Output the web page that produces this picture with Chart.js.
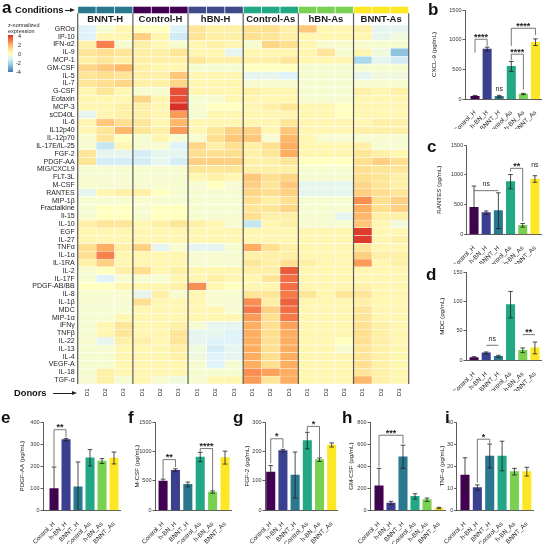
<!DOCTYPE html>
<html><head><meta charset="utf-8">
<script src="https://cdn.jsdelivr.net/npm/chart.js@4.4.0/dist/chart.umd.min.js"></script>
<style>
html,body{margin:0;padding:0;background:#fff;}
body{width:546px;height:544px;position:relative;overflow:hidden;font-family:"Liberation Sans",Arial,sans-serif;}
canvas{position:absolute;}
.t{position:absolute;white-space:nowrap;color:#111;}
.pl{position:absolute;font-weight:bold;font-size:17px;line-height:17px;color:#111;}
.cbl{position:absolute;font-size:5.5px;line-height:6px;color:#222;}
</style></head><body>

<canvas id="hm" width="412" height="402" style="left:0;top:0"></canvas>
<canvas id="cb" width="115" height="124" style="left:431px;top:5px"></canvas>
<canvas id="cc" width="110" height="124" style="left:436px;top:140px"></canvas>
<canvas id="cd" width="107" height="124" style="left:439px;top:266.7px"></canvas>
<canvas id="ce" width="106" height="128" style="left:19px;top:416.7px"></canvas>
<canvas id="cf" width="102" height="128" style="left:134px;top:416.7px"></canvas>
<canvas id="cg" width="99" height="128" style="left:244px;top:416.7px"></canvas>
<canvas id="ch" width="102" height="128" style="left:348px;top:416.7px"></canvas>
<canvas id="ci" width="99" height="128" style="left:439px;top:416.7px"></canvas>

<div class="pl" style="left:2px;top:-1px">a</div>
<div class="t" style="left:15px;top:5px;font-weight:bold;font-size:9.3px;line-height:10px">Conditions</div>
<div style="position:absolute;left:65px;top:10px;width:6px;height:0;border-top:1.2px solid #222"></div>
<div style="position:absolute;left:70px;top:8px;width:0;height:0;border-top:2.6px solid transparent;border-bottom:2.6px solid transparent;border-left:5px solid #222"></div>

<div class="cbl" style="left:8px;top:22px">z-normalized<br>expression</div>
<div style="position:absolute;left:8px;top:35px;width:5px;height:37px;background:linear-gradient(to bottom,#d73027,#f46d43,#fdae61,#fee090,#ffffbf,#e0f3f8,#abd9e9,#74add1,#4575b4)"></div>
<div class="cbl" style="left:18px;top:33px">4</div>
<div class="cbl" style="left:18px;top:41.5px">2</div>
<div class="cbl" style="left:18px;top:50.5px">0</div>
<div class="cbl" style="left:16px;top:59.5px">-2</div>
<div class="cbl" style="left:16px;top:68.5px">-4</div>

<div class="t" style="left:14px;top:388px;font-weight:bold;font-size:9.3px;line-height:10px">Donors</div>
<div style="position:absolute;left:53px;top:393px;width:20px;height:0;border-top:1px solid #222"></div>
<div style="position:absolute;left:72px;top:390.8px;width:0;height:0;border-top:2.5px solid transparent;border-bottom:2.5px solid transparent;border-left:5px solid #222"></div>

<div class="pl" style="left:428px;top:1px">b</div>
<div class="pl" style="left:427px;top:138px">c</div>
<div class="pl" style="left:426px;top:266px">d</div>
<div class="pl" style="left:1px;top:409px">e</div>
<div class="pl" style="left:128px;top:409px">f</div>
<div class="pl" style="left:233px;top:409px">g</div>
<div class="pl" style="left:342px;top:409px">h</div>
<div class="pl" style="left:445px;top:409px">i</div>

<script>
// ---------------- DATA ----------------
const cytokines = ['GROα','IP-10','IFN-α2','IL-9','MCP-1','GM-CSF','IL-5','IL-7','G-CSF','Eotaxin','MCP-3','sCD40L','IL-6','IL12p40','IL-12p70','IL-17E/IL-25','FGF-2','PDGF-AA','MIG/CXCL9','FLT-3L','M-CSF','RANTES','MIP-1β','Fractalkine','Il-15','IL-10','EGF','IL-27','TNFα','IL-1α','IL-1RA','IL-2','IL-17F','PDGF-AB/BB','IL-8','IL-1β','MDC','MIP-1α','IFNγ','TNFβ','IL-22','IL-13','IL-4','VEGF-A','IL-18','TGF-α'];
const conditions = ['BNNT-H','Control-H','hBN-H','Control-As','hBN-As','BNNT-As'];
const donors = ['D1','D2','D3'];
// z-scores: columns BNNT-H D1-3, Control-H D1-3, hBN-H D1-3, Control-As D1-3, hBN-As D1-3, BNNT-As D1-3
const zScores = [
 [-1,-0.3,0.3, 0,0,-1, 0.8,0.5,0.5, 1,1,0.5, 1.5,0.3,0.3, 0.5,-0.8,-0.8],
 [-1,0.3,0.3, 1.3,0.3,-1.3, 0.8,0.5,0.5, 1,0.8,0.5, 0.3,0.3,0.3, 0.3,-0.8,-0.5],
 [0.5,2.7,-0.3, 0.5,0.2,-0.3, 0.3,0.5,0.3, -0.3,1.2,1, 0.3,-0.3,-0.3, -0.3,-0.3,-0.3],
 [0.8,1,0.8, 0.5,0.5,0.8, 0.3,0.3,-0.8, 0.3,0.3,0.3, 0.3,0.8,-0.3, 0.3,-0.5,-2.5],
 [0.5,0.8,0.5, 0.5,0.5,0.5, 0.8,0.5,0.5, 0.5,0.5,0.8, 0.3,0.3,0.3, -2,-0.8,-1.3],
 [1.2,1.5,1.8, 0.5,0.3,0.3, -0.3,-0.3,-0.3, 0,0,0, -0.3,-0.3,-0.3, -0.3,-0.3,-0.3],
 [0.8,1,0.8, 0.5,0.5,1.5, 0.3,0.3,0.3, -0.8,-0.8,-1, -0.3,-0.3,-0.3, -0.8,-0.5,-0.5],
 [0.8,1,1.2, 0.5,0.5,1.2, 0.3,0.3,0.3, -0.3,-0.3,-0.3, -0.3,-0.3,-0.3, -0.3,-0.3,-0.3],
 [0.3,0.8,0.3, -0.3,-0.3,3.5, 0.3,0.3,0.3, 0.5,0.3,0.3, -0.3,-0.3,-0.3, 0.5,0.3,0.5],
 [0.3,0.3,0.3, 1.2,0.3,3.5, -0.3,-0.3,0.3, 0.3,0.3,0.3, -0.3,-0.3,-0.3, 0.3,0.3,0.3],
 [0.3,0.3,0.5, 0.5,0.3,4, -0.3,0,0, 0.3,0.5,0.8, 0.3,0.3,0, 0.3,0.3,0.3],
 [-0.8,0.3,0.5, 0.5,0.3,2.3, -0.3,0.3,0.3, 0.3,0.3,0.3, 0.3,0.3,0, 0.3,0.3,0.3],
 [0.3,1.5,1, 0.8,0.3,1.8, 0.3,0.3,0.3, 0.3,0.3,0.8, 0.3,0.3,0.3, 0.3,0.5,0.5],
 [0.3,0.8,1.8, 0.8,0.5,2.3, 0.3,0.8,1.3, 1.3,0.3,1.5, 0.3,0.3,0.3, 0.5,0.5,0.5],
 [-0.3,0.8,0, -0.3,0.3,-0.3, -0.3,1,1.5, 1.5,-0.3,1.8, 0.3,-0.3,-0.3, -0.3,-0.3,-0.3],
 [-0.3,-1.5,0.3, -0.3,-0.3,-1, 1.2,0.5,1, 0.5,1,2, 0.3,0.3,0.3, 0.5,-0.3,-0.3],
 [0.8,-0.8,-0.8, -1.2,-0.8,-0.8, 1,1,1, 0.5,0.8,2, 0.3,0.3,0.3, 0.8,0.5,0.3],
 [0.8,-1.2,-1.2, -1.2,-0.8,-1.2, 1.3,1.3,1.3, 0.5,0.5,0.8, 0,0,0, 1,1.3,1],
 [-0.3,-0.3,-0.3, -0.3,-0.3,-0.3, 0.8,0.8,0.8, 0.5,0.5,0.5, -0.3,-0.3,-0.3, 1,0.8,0.8],
 [-0.3,-0.3,-0.3, -0.3,-0.3,-0.3, 0.3,0.5,0.3, 1.5,1,1.2, -0.3,-0.3,-0.3, 1,0.8,0.5],
 [-0.3,-0.3,-0.3, -0.3,-0.3,-0.3, -0.3,0,-0.3, 1.3,0.8,1.5, -0.8,-0.8,-0.8, 1.2,0.8,0.5],
 [-0.8,0.3,0.5, 0.5,0,-0.3, -0.3,-0.3,-0.3, 1.2,1,1.3, -0.8,-0.8,-0.8, 1.3,1,0.8],
 [-0.3,-0.3,-0.3, -0.3,-0.3,-0.3, -0.3,-0.3,-0.3, 1,0.5,1, -0.3,-0.3,-0.3, 2.5,1,1.3],
 [-0.3,0,0, -0.3,0,0, -0.3,-0.3,-0.3, 0.8,0.8,1.2, -0.3,-0.3,-0.3, 2,1,1.3],
 [-0.3,0,0, -0.3,0,0, -0.3,-0.3,-0.3, 1,0.5,0.5, -0.3,-0.3,-0.8, 1.8,0.5,0.5],
 [0.5,0.8,0.8, 0.3,0.5,0.8, 0.5,0.3,-0.3, -1.5,0.3,0.5, -0.3,-0.3,-0.3, 1.5,0.3,-0.5],
 [0.3,0.3,0.3, 0.3,0.3,0.3, 0.3,0.3,0.3, 0.3,0.3,0.3, 0.3,0.3,0.3, 3.8,0.3,0.3],
 [0.3,0.3,0.3, 0.3,0.3,0.3, 0.3,0.3,0.3, 0.3,0.3,0.3, 0.3,0.3,0.3, 3.8,0.3,0.5],
 [1,2,0.5, 1.3,-0.8,-0.3, -0.8,-0.8,-0.3, 2,1,0.5, 0.3,0.3,0.3, 0.8,0.3,0.3],
 [1,2.7,0.3, 0.3,0.3,0.3, -0.3,-0.3,-0.3, 0.5,0.5,0.5, 0.3,0.3,0.3, 1.3,0.5,0.5],
 [0.5,1.3,0.3, 0.3,0.3,0.3, -0.3,-0.3,-0.3, 0.8,0.5,1, 0.5,0.3,0.3, 2.3,0.3,0.5],
 [-0.3,0,0.5, 1,0.3,0.5, 0.3,0.3,0.3, 0.5,0.5,3.3, 0.3,0.3,0.3, 0.3,0.3,0.3],
 [-0.3,-1,-0.3, -0.3,-0.3,0.3, 0.3,0.5,0.3, 0.3,0.8,3, 0.3,0.3,0.3, 0.3,0.3,0.3],
 [0,0,0.3, 0.3,0.3,0.5, 2.5,0.3,0, 0.3,0.3,3, 0.3,0.3,0.3, 0.5,0.3,0.3],
 [-0.3,-0.3,-0.3, -0.8,0.5,-0.3, 0.3,-0.3,-0.3, 0.8,0.8,2.8, 0.8,0.3,0.8, 0.8,0.3,0.3],
 [-0.3,-0.3,-0.3, 1,0.3,0.3, 0.3,-0.3,-0.3, 2.5,0.5,3.2, 0.3,0.3,0.3, 0.5,0.3,0.3],
 [-0.3,-0.3,-0.3, 0.3,0.3,0.3, 0.3,0.3,-0.3, 2.8,1.3,3, 0.3,0.3,0.3, 0.8,0.3,0.3],
 [-0.3,-0.3,0.3, 0.3,0.3,0.3, 0.3,0.3,0.3, 2.3,1,2.8, 0.3,0.3,0.3, 0.8,0.3,0.3],
 [-0.3,0.3,0.8, 0.3,0.3,0.5, -0.3,-0.8,-0.8, 2,1,2.2, 0.3,0.3,0.3, 1,0.5,0.3],
 [-0.3,0.3,0.8, 0.3,0.3,0.8, -0.8,-0.8,-1, 2,1,2, 0.3,0.3,0.3, 1,0.5,0.3],
 [-0.3,-0.8,0.5, 0.5,0.3,0.8, -0.8,-1,-1, 2,1,2, 0.3,0.3,0, 1,0.5,0.3],
 [-0.3,-0.3,0.3, 0.3,0.3,0.5, -0.5,-1.2,-0.8, 2,1,2, 0.3,0.3,-0.3, 0.8,0.5,0.3],
 [-0.3,-0.3,0.3, 0.3,0.3,0.5, -0.5,-1,-0.8, 2,1,2, 0.3,0.3,0.3, 0.8,0.5,0.3],
 [-0.3,-0.3,0.3, 0.3,0.3,0.3, -0.3,-1,-0.3, 2,1,2, 0.3,0.3,0.3, 1,0.5,0.3],
 [-0.3,0.5,0.3, 0.3,0.3,0.3, -0.3,-0.3,-0.3, 2.5,2.2,2, 0.3,0.3,0.3, 0.8,0.5,0.3],
 [-0.3,0.5,-0.3, 0.3,-0.3,-0.5, -0.3,0.3,0.3, 2.3,0.8,2, 0.3,0.3,0.3, 1.8,0.5,0.3]
];

const groups = ['Control_H','h-BN_H','BNNT_H','Control_As','h-BN_As','BNNT_As'];
const cxcl9 = [45, 840, 45, 549, 84, 957];
const cxcl9Err = [15, 33, 17, 83, 11, 56];
const rantes = [455, 364, 397, 884, 151, 929];
const rantesErr = [355, 28, 300, 120, 30, 55];
const mdc = [4.5, 12.5, 6.8, 94.5, 17, 21];
const mdcErr = [1.7, 1.7, 1.7, 22.5, 4, 10];
const pdgfaa = [98, 320, 106, 238, 223, 237];
const pdgfaaErr = [98, 5, 113, 37, 11, 27];
const mcsf = [495, 680, 440, 905, 310, 895];
const mcsfErr = [35, 25, 40, 80, 20, 110];
const fgf2 = [130, 203, 120, 237, 172, 222];
const fgf2Err = [22, 4, 78, 28, 6, 7];
const gmcsf = [222, 66, 485, 126, 96, 21];
const gmcsfErr = [158, 15, 105, 24, 15, 6];
const tnfa = [16, 10.3, 24.6, 24.6, 17.5, 17.5];
const tnfaErr = [7.8, 1.2, 5.4, 6.7, 1.5, 2];

// significance annotations: a,b = bar indices; y = bracket level; ya/yb = leg ends (data units)
const cxcl9Sig = [{a:0,b:1,y:1007,ya:780,yb:895,t:'****'},{a:3,b:4,y:756,ya:650,yb:160,t:'****'},{a:3,b:5,y:1192,ya:895,yb:1080,t:'****'}];
const cxcl9Ns = [{at:2,y:135,t:'ns'}];
const rantesSig = [{a:0,b:2,y:733,ya:733,yb:733,t:'ns'},{a:3,b:4,y:1108,ya:1052,yb:213,t:'**'}];
const rantesNs = [{at:5,y:1134,t:'ns'}];
const mdcSig = [{a:1,b:2,y:25.5,ya:25.5,yb:25.5,t:'ns'},{a:4,b:5,y:43.6,ya:43.6,yb:43.6,t:'**'}];
const pdgfaaSig = [{a:0,b:1,y:365,ya:200,yb:330,t:'**'}];
const mcsfSig = [{a:0,b:1,y:861,ya:540,yb:735,t:'**'},{a:3,b:4,y:1048,ya:995,yb:345,t:'****'}];
const fgf2Sig = [{a:0,b:1,y:243,ya:160,yb:212,t:'*'},{a:3,b:4,y:285,ya:268,yb:181,t:'*'}];
const gmcsfSig = [{a:0,b:2,y:680,ya:395,yb:605,t:'***'}];
const tnfaSig = [{a:1,b:2,y:32.2,ya:12.5,yb:30.5,t:'*'}];

// ---------------- STYLE ----------------
const F = '"Liberation Sans", Arial, sans-serif';
const condColors = ['#2a788e','#440154','#3e4a89','#22a884','#7ad151','#fde725'];
const barColors = ['#440154','#3b3f8f','#2a788e','#22a884','#7ad151','#fde725'];
const stops = [[-4,[69,117,180]],[-3,[116,173,209]],[-2,[171,217,233]],[-1,[224,243,248]],[0,[255,255,191]],[1,[254,224,144]],[2,[253,174,97]],[3,[244,109,67]],[4,[215,48,39]]];
function zColor(v){
  v = Math.max(-4, Math.min(4, v));
  for (let i=0;i<stops.length-1;i++){
    const [a,ca]=stops[i],[b,cb]=stops[i+1];
    if (v>=a && v<=b){ const t=(v-a)/(b-a); const c=ca.map((x,k)=>Math.round(x+(cb[k]-x)*t)); return `rgb(${c[0]},${c[1]},${c[2]})`; }
  }
  return '#fff';
}

// ---------------- HEATMAP ----------------
const heatDeco = {
  id:'heatDeco',
  afterDatasetsDraw(chart){
    const {ctx, chartArea:a, scales:{x}} = chart;
    ctx.save();
    for (let c=0;c<18;c++){
      const x0=x.getPixelForValue(c), x1=x.getPixelForValue(c+1);
      ctx.fillStyle=condColors[Math.floor(c/3)];
      ctx.fillRect(x0+0.4, 6.7, x1-x0-0.8, 6.6);
    }
    ctx.font='bold 9.5px '+F; ctx.fillStyle='#1a1a1a'; ctx.textAlign='center'; ctx.textBaseline='middle';
    conditions.forEach((g,i)=>{ ctx.fillText(g,(x.getPixelForValue(3*i)+x.getPixelForValue(3*i+3))/2, 19.8); });
    ctx.strokeStyle='#5a5a5a'; ctx.lineWidth=1.2;
    for (let k=0;k<=6;k++){ const px=x.getPixelForValue(3*k); ctx.beginPath(); ctx.moveTo(px,13.3); ctx.lineTo(px,a.bottom); ctx.stroke(); }
    ctx.font='6px '+F; ctx.fillStyle='#222'; ctx.textAlign='right'; ctx.textBaseline='middle';
    for (let c=0;c<18;c++){
      const cx=(x.getPixelForValue(c)+x.getPixelForValue(c+1))/2;
      ctx.save(); ctx.translate(cx, a.bottom+4); ctx.rotate(-Math.PI/2); ctx.fillText(donors[c%3], -0.5, 0); ctx.restore();
    }
    ctx.restore();
  }
};
const hmDatasets = [];
for (let c=0;c<18;c++){
  hmDatasets.push({
    data: cytokines.map(()=>1),
    backgroundColor: zScores.map(r=>zColor(r[c])),
    borderColor:'#ffffff', borderWidth:0.5, borderSkipped:false,
    barPercentage:1, categoryPercentage:1, stack:'s'
  });
}
new Chart(document.getElementById('hm'), {
  type:'bar',
  data:{labels:cytokines, datasets:hmDatasets},
  options:{
    indexAxis:'y', animation:false, responsive:false, devicePixelRatio:1,
    layout:{padding:{top:25,bottom:18,right:3.3,left:0}},
    plugins:{legend:{display:false},tooltip:{enabled:false}},
    scales:{
      x:{type:'linear',stacked:true,min:0,max:18,display:false},
      y:{stacked:true, ticks:{autoSkip:false,font:{size:7,family:F},color:'#222',padding:3},
         grid:{display:false,drawTicks:false}, border:{display:false},
         afterFit:(s)=>{s.width=77.7;}}
    }
  },
  plugins:[heatDeco]
});

// ---------------- BAR CHARTS ----------------
const barDeco = {
  id:'barDeco',
  afterDatasetsDraw(chart, args, o){
    const {ctx, scales:{x,y}} = chart;
    const ds = chart.data.datasets[0], meta = chart.getDatasetMeta(0);
    ctx.save();
    ctx.strokeStyle='#1e1e1e'; ctx.lineWidth=0.8;
    meta.data.forEach((bar,i)=>{
      const m=ds.data[i].y, e=ds.err[i];
      const yt=y.getPixelForValue(m+e), yb=y.getPixelForValue(Math.max(0,m-e));
      ctx.beginPath();
      ctx.moveTo(bar.x,yt); ctx.lineTo(bar.x,yb);
      ctx.moveTo(bar.x-2.3,yt); ctx.lineTo(bar.x+2.3,yt);
      if (m-e>0){ ctx.moveTo(bar.x-2.3,yb); ctx.lineTo(bar.x+2.3,yb); }
      ctx.stroke();
    });
    ctx.strokeStyle='#555'; ctx.lineWidth=0.8; ctx.fillStyle='#1e1e1e'; ctx.textAlign='center'; ctx.textBaseline='alphabetic';
    (o.sig||[]).forEach(b=>{
      const xa=x.getPixelForValue(b.a), xb=x.getPixelForValue(b.b), yy=y.getPixelForValue(b.y);
      ctx.beginPath();
      ctx.moveTo(xa,y.getPixelForValue(b.ya)); ctx.lineTo(xa,yy); ctx.lineTo(xb,yy); ctx.lineTo(xb,y.getPixelForValue(b.yb));
      ctx.stroke();
      if (b.t==='ns'){ ctx.font='7px '+F; ctx.fillText(b.t,(xa+xb)/2,yy-4.5); }
      else { ctx.font='bold 9px '+F; ctx.fillText(b.t,(xa+xb)/2,yy+0.5); }
    });
    (o.ns||[]).forEach(l=>{
      ctx.font='7px '+F; ctx.fillText(l.t, x.getPixelForValue(l.at), y.getPixelForValue(l.y));
    });
    ctx.restore();
  }
};

function makeBar(id, o){
  new Chart(document.getElementById(id), {
    type:'bar',
    data:{datasets:[{data:o.values.map((v,i)=>({x:i,y:v})), err:o.errors, backgroundColor:barColors, borderWidth:0, barThickness:8.4}]},
    options:{
      animation:false, responsive:false, devicePixelRatio:1,
      layout:{padding:{top:5,right:o.padR,left:0,bottom:0}},
      plugins:{legend:{display:false},tooltip:{enabled:false},barDeco:{sig:o.sig,ns:o.ns}},
      scales:{
        x:{type:'linear',offset:false,min:o.xmin,max:5.5,
           grid:{display:false}, border:{color:'#333',width:0.8},
           ticks:{autoSkip:false,maxRotation:45,minRotation:45,padding:2,font:{size:6.3,family:F},color:'#2a2a2a',
                  callback:(v)=>groups[v]},
           afterBuildTicks:(s)=>{s.ticks=groups.map((g,i)=>({value:i}));},
           afterFit:(s)=>{s.height=o.xh;}},
        y:{min:0,max:o.max,
           ticks:{stepSize:o.step,font:{size:5.5,family:F},color:'#333',padding:1,callback:(v)=>String(v)},
           grid:{drawOnChartArea:false,tickLength:2.5,color:'#333',lineWidth:0.8},
           border:{color:'#333',width:0.8},
           title:{display:true,text:o.title,font:{size:6.2,family:F},color:'#222',padding:{top:0,bottom:0}},
           afterFit:(s)=>{s.width=o.w;}}
      }
    },
    plugins:[barDeco]
  });
}

makeBar('cb',{values:cxcl9,errors:cxcl9Err,max:1500,step:500,title:'CXCL-9 (pg/mL)',xmin:-0.83,w:34,padR:4.5,xh:30,sig:cxcl9Sig,ns:cxcl9Ns});
makeBar('cc',{values:rantes,errors:rantesErr,max:1500,step:500,title:'RANTES (pg/mL)',xmin:-0.6,w:30.7,padR:5,xh:29.7,sig:rantesSig,ns:rantesNs});
makeBar('cd',{values:mdc,errors:mdcErr,max:150,step:50,title:'MDC (pg/mL)',xmin:-0.66,w:27,padR:5,xh:30.7,sig:mdcSig,ns:[]});
makeBar('ce',{values:pdgfaa,errors:pdgfaaErr,max:400,step:100,title:'PDGF-AA (pg/mL)',xmin:-0.92,w:24,padR:5,xh:34.7,sig:pdgfaaSig,ns:[]});
makeBar('cf',{values:mcsf,errors:mcsfErr,max:1500,step:500,title:'M-CSF (pg/mL)',xmin:-0.65,w:21,padR:4.8,xh:34.7,sig:mcsfSig,ns:[]});
makeBar('cg',{values:fgf2,errors:fgf2Err,max:300,step:100,title:'FGF-2 (pg/mL)',xmin:-0.47,w:21,padR:5.2,xh:34.7,sig:fgf2Sig,ns:[]});
makeBar('ch',{values:gmcsf,errors:gmcsfErr,max:800,step:200,title:'GM-CSF (pg/mL)',xmin:-0.75,w:22,padR:5,xh:34.7,sig:gmcsfSig,ns:[]});
makeBar('ci',{values:tnfa,errors:tnfaErr,max:40,step:10,title:'TNF-α (pg/mL)',xmin:-0.67,w:17.7,padR:5,xh:34.7,sig:tnfaSig,ns:[]});
</script>
</body></html>
